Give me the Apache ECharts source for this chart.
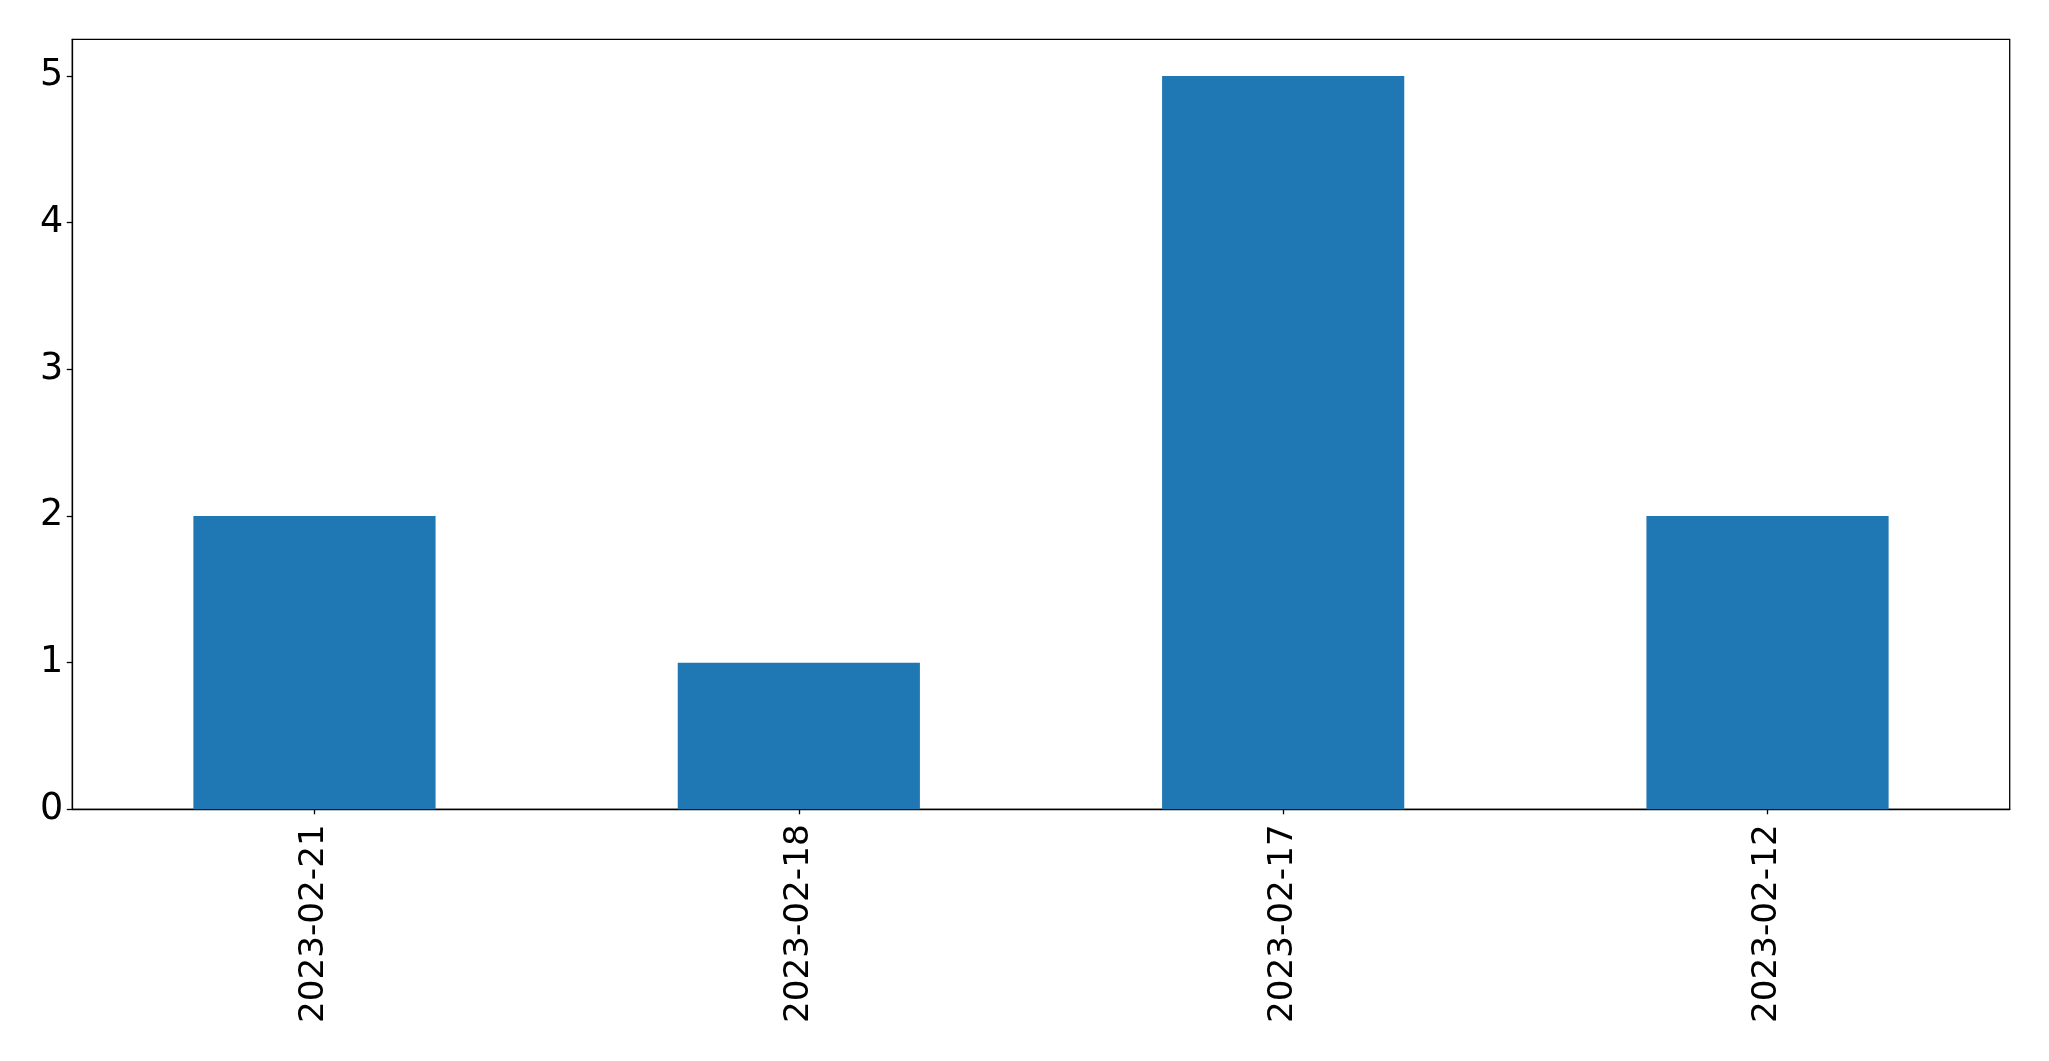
<!DOCTYPE html>
<html><head><meta charset="utf-8">
<script src="https://cdn.jsdelivr.net/npm/echarts@6/dist/echarts.min.js"></script>
<style>html,body{margin:0;padding:0;background:#fff}#c{width:2049px;height:1061px}</style>
</head><body><div id="c"></div>
<script>
const categories = ['2023-02-21', '2023-02-18', '2023-02-17', '2023-02-12'];
const counts = [2, 1, 5, 2];
const yTicks = [0, 1, 2, 3, 4, 5];

const chart = echarts.init(document.getElementById('c'), null, {renderer: 'canvas'});
const font = 'DejaVu Sans';
chart.setOption({
  animation: false,
  backgroundColor: '#fff',
  grid: {left: 72.3, top: 39.3, width: 1937.4, height: 770, show: true, borderColor: '#000', borderWidth: 1.3, backgroundColor: 'transparent'},
  xAxis: {
    type: 'category', data: categories,
    axisLine: {show: true, lineStyle: {color: '#000', width: 1.3}},
    axisTick: {show: true, alignWithLabel: true, length: 5, lineStyle: {color: '#000', width: 1.3}},
    axisLabel: {rotate: 90, margin: 15, fontSize: 34.2, fontFamily: font, color: '#000', interval: 0},
    splitLine: {show: false}
  },
  yAxis: {
    type: 'value', min: 0, max: 5.25, interval: 1,
    axisLine: {show: true, lineStyle: {color: '#000', width: 1.3}},
    axisTick: {show: true, length: 5.5, lineStyle: {color: '#000', width: 1.3}, customValues: yTicks},
    axisLabel: {margin: 9, fontSize: 36.5, fontFamily: font, color: '#000', customValues: yTicks},
    splitLine: {show: false}
  },
  series: [{
    type: 'bar', data: counts, barWidth: '50%',
    itemStyle: {color: '#1f77b4'}
  }]
});
</script></body></html>
